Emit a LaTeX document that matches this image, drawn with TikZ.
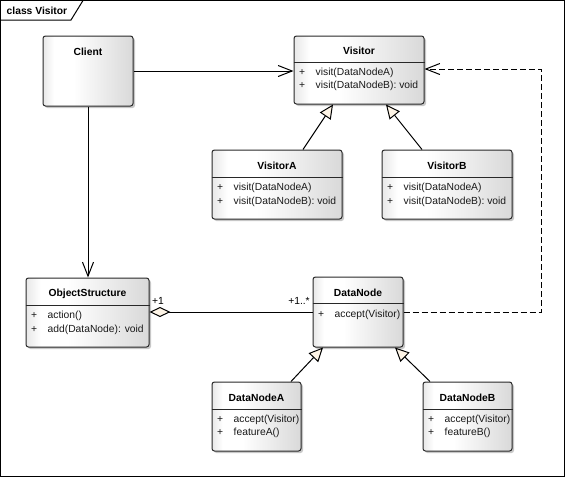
\documentclass[tikz,border=0pt]{standalone}
\usepackage{fontspec}
\setmainfont{Liberation Sans}
\usetikzlibrary{arrows.meta,shadows,calc}
\definecolor{cream}{RGB}{253,244,230}
\definecolor{edge}{RGB}{40,40,40}
\pgfdeclarehorizontalshading{boxshade}{100bp}{color(0bp)=(black!9); color(25bp)=(black!9); color(31bp)=(white); color(42bp)=(white); color(75bp)=(black!15); color(100bp)=(black!15)}
\tikzset{
  umlbox/.style={draw=edge, line width=1pt, rounded corners=2.5pt, shade, shading=boxshade,
    inner sep=0pt,
    drop shadow={shadow xshift=2pt, shadow yshift=-2pt, fill=black, opacity=0.22}},
  ctitle/.style={font=\fontsize{10.3}{12}\selectfont\bfseries, inner sep=0pt},
  attr/.style={anchor=west, inner sep=0pt, text=black!90},
  sepline/.style={draw=edge, line width=1pt},
  assoc/.style={draw=black, line width=1pt, -{Straight Barb[length=14pt,width=11pt,line width=1pt]}},
  depend/.style={draw=black, line width=1pt, dash pattern=on 6pt off 3pt, -{Straight Barb[length=14pt,width=11pt,line width=1pt]}},
  general/.style={draw=black, line width=1pt, -{Triangle[length=14pt,width=13pt,fill=cream,line width=1pt]}},
  aggr/.style={draw=black, line width=1pt, -{Diamond[length=21pt,width=10pt,fill=cream,line width=1pt]}},
  mult/.style={inner sep=0pt}
}
\newcommand{\pl}{\makebox[16.5pt][l]{+}}
\begin{document}
\begin{tikzpicture}[x=1pt,y=-1pt,font=\fontsize{10.3}{12}\selectfont]
\useasboundingbox (0,0) rectangle (566,477);
% frame
\draw[line width=1pt] (0.5,0.5) rectangle (564.5,476.5);
\draw[line width=1pt] (0.5,20) -- (71,20) -- (83,0.5);
\node[ctitle, anchor=west] (frametitle) at (6.5,10.5) {class Visitor};

% Client
\node[umlbox, minimum width=90pt, minimum height=70pt] (client) at (88,71) {};
\node[ctitle] (clientT) at (88,52) {Client};

% Visitor
\node[umlbox, minimum width=130pt, minimum height=68pt] (visitor) at (359,70) {};
\node[ctitle] (visitorT) at (359,50.5) {Visitor};
\draw[sepline] (visitor.west |- 0,62) -- (visitor.east |- 0,62);
\node[attr] (visitor1) at (299,73) {\pl visit(DataNodeA)};
\node[attr] (visitor2) at (299,86) {\pl visit(DataNodeB): void};

% VisitorA
\node[umlbox, minimum width=130pt, minimum height=69pt] (visitorA) at (277,184.5) {};
\node[ctitle] (visitorAT) at (277,165.5) {VisitorA};
\draw[sepline] (visitorA.west |- 0,177) -- (visitorA.east |- 0,177);
\node[attr] (visitorA1) at (217,188) {\pl visit(DataNodeA)};
\node[attr] (visitorA2) at (217,201.5) {\pl visit(DataNodeB): void};

% VisitorB
\node[umlbox, minimum width=130pt, minimum height=69pt] (visitorB) at (447,184.5) {};
\node[ctitle] (visitorBT) at (447,165.5) {VisitorB};
\draw[sepline] (visitorB.west |- 0,177) -- (visitorB.east |- 0,177);
\node[attr] (visitorB1) at (387,188) {\pl visit(DataNodeA)};
\node[attr] (visitorB2) at (387,201.5) {\pl visit(DataNodeB): void};

% ObjectStructure
\node[umlbox, minimum width=123pt, minimum height=69pt] (os) at (87.5,312.5) {};
\node[ctitle] (osT) at (87.5,294) {ObjectStructure};
\draw[sepline] (os.west |- 0,305) -- (os.east |- 0,305);
\node[attr] (os1) at (31,315.5) {\pl action()};
\node[attr] (os2) at (31,329.5) {\pl add(DataNode): void};

% DataNode
\node[umlbox, minimum width=90pt, minimum height=70pt] (datanode) at (358,312) {};
\node[ctitle] (datanodeT) at (358,293) {DataNode};
\draw[sepline] (datanode.west |- 0,303) -- (datanode.east |- 0,303);
\node[attr] (datanode1) at (318,314.5) {\pl accept(Visitor)};

% DataNodeA
\node[umlbox, minimum width=89pt, minimum height=69pt] (datanodeA) at (256.5,416.5) {};
\node[ctitle] (datanodeAT) at (256.5,397.5) {DataNodeA};
\draw[sepline] (datanodeA.west |- 0,409) -- (datanodeA.east |- 0,409);
\node[attr] (datanodeA1) at (217,420) {\pl accept(Visitor)};
\node[attr] (datanodeA2) at (217,432.5) {\pl featureA()};

% DataNodeB
\node[umlbox, minimum width=89pt, minimum height=69pt] (datanodeB) at (467.5,416.5) {};
\node[ctitle] (datanodeBT) at (467.5,397.5) {DataNodeB};
\draw[sepline] (datanodeB.west |- 0,409) -- (datanodeB.east |- 0,409);
\node[attr] (datanodeB1) at (428,420) {\pl accept(Visitor)};
\node[attr] (datanodeB2) at (428,432.5) {\pl featureB()};

% connectors
\draw[assoc] (client.east) -- (client.east -| visitor.west);
\draw[assoc] (client.south) -- (client.south |- os.north);
\coordinate (bendA) at (541,312);
\coordinate (bendB) at (541,69);
\draw[depend] (datanode.east) -- (bendA) -- (bendB) -- ([yshift=1pt]visitor.east);
\draw[general] ([xshift=26pt]visitorA.north) -- ([xshift=-26pt]visitor.south);
\draw[general] ([xshift=-25pt]visitorB.north) -- ([xshift=27pt]visitor.south);
\draw[general] ([xshift=34.5pt]datanodeA.north) -- ([xshift=-35pt]datanode.south);
\draw[general] ([xshift=-37.5pt]datanodeB.north) -- ([xshift=37pt]datanode.south);
\draw[aggr] (datanode.west) -- (datanode.west -| os.east);
\node[mult] (m1) at (158,300.5) {+1};
\node[mult] (m2) at (299,300.5) {+1..*};
\end{tikzpicture}
\end{document}
